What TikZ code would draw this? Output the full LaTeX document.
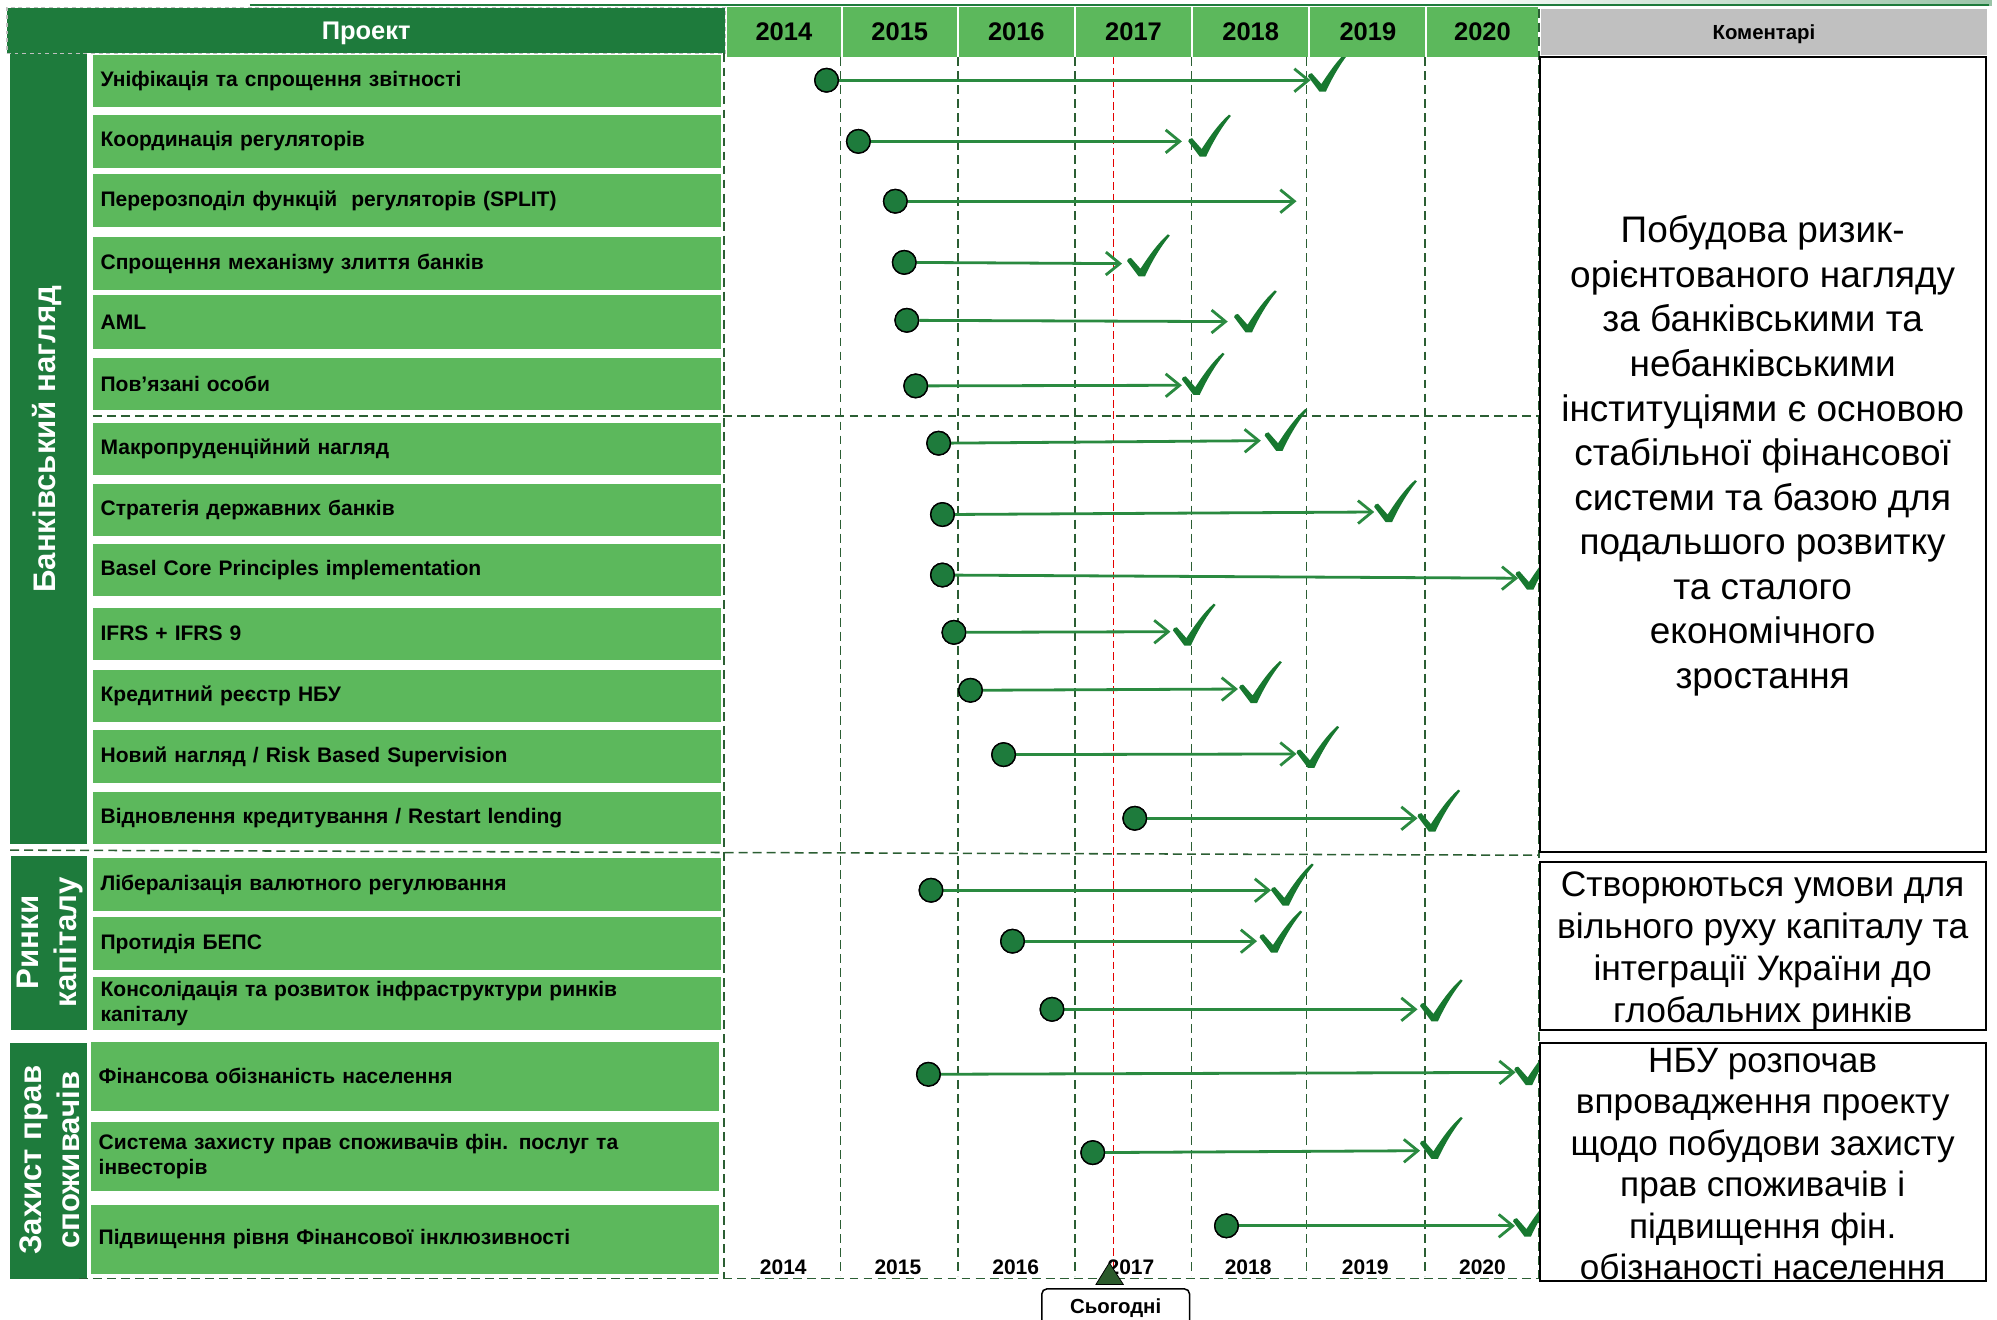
\documentclass[tikz,border=0pt]{standalone}
\usepackage{fontspec}
\setmainfont{Liberation Sans}
\usetikzlibrary{arrows.meta}
\definecolor{dg}{HTML}{1E7B3C}
\definecolor{lg}{HTML}{5CB85C}
\definecolor{gridc}{HTML}{2B5E33}
\definecolor{arrc}{HTML}{2A8A40}
\definecolor{tickc}{HTML}{17782F}
\definecolor{greyh}{HTML}{C0C0C0}
\definecolor{trig}{HTML}{2B5A2B}
\tikzset{
  item/.style={fill=lg, inner xsep=6pt, inner ysep=0pt, text width=481pt, align=left,
    font=\fontsize{16.5}{20}\selectfont\bfseries},
  bandbox/.style={fill=dg, inner sep=0pt},
  bandtxt/.style={text=white, rotate=90, align=center, inner sep=0pt,
    font=\fontsize{24.5}{30}\selectfont\bfseries},
  dot/.style={circle, fill=dg, draw=black, line width=1.1pt, minimum size=18.5pt, inner sep=0pt},
  arr/.style={draw=arrc, line width=2.2pt, -{Straight Barb[length=11pt,width=18pt]}},
  gridl/.style={draw=gridc, line width=1.2pt, dash pattern=on 7pt off 4pt},
  redl/.style={draw=red!90!black, line width=1pt, dash pattern=on 6pt off 3pt},
  yh/.style={fill=lg, inner sep=0pt, minimum height=39pt, font=\fontsize{20}{24}\selectfont\bfseries},
  ybot/.style={inner sep=0pt, font=\fontsize{16.5}{20}\selectfont\bfseries},
  cbox/.style={draw=black, line width=1.5pt, fill=white, inner sep=0pt},
  chk/.pic={\fill[tickc] (-1,1) -- (-10,-11) .. controls (-9.5,-13) .. (-7,-13.5) -- (0.5,-5)
     .. controls (7,-15) and (14,-25) .. (22,-32) -- (23.5,-31)
     .. controls (16,-22) and (9,-10) .. (4,1) -- cycle;}
}
\begin{document}
\begin{tikzpicture}[x=1pt,y=-1pt]
\useasboundingbox (0,0) rectangle (1568,1036);

% top decoration
\shade[left color=white, right color=dg!45] (1120,0) rectangle (1564,4);
\draw[dg, line width=1.6pt] (196,4.2) -- (1562,4.2);

% side bands
\node[bandbox, minimum width=60pt, minimum height=621pt] (bnk) at (38,352.5) {};
\node[bandtxt] (bnkt) at (37,345) {Банківський нагляд};
\node[bandbox, minimum width=59pt, minimum height=137pt] (cap) at (38.5,740.5) {};
\node[bandtxt] (capt) at (39,740) {Ринки\\капіталу};
\node[bandbox, minimum width=60pt, minimum height=185pt] (zp) at (38,911.5) {};
\node[bandtxt] (zpt) at (39,911) {Захист прав\\споживачів};

% project rows
\node[item, minimum height=41pt] (r1) at (319.5,63.5) {Уніфікація та спрощення звітності};
\node[item, minimum height=42pt] (r2) at (319.5,111) {Координація регуляторів};
\node[item, minimum height=41pt] (r3) at (319.5,157.5) {Перерозподіл функцій~ регуляторів (SPLIT)};
\node[item, minimum height=42pt] (r4) at (319.5,207) {Спрощення механізму злиття банків};
\node[item, minimum height=42pt] (r5) at (319.5,253) {AML};
\node[item, minimum height=41pt] (r6) at (319.5,301.5) {Пов’язані особи};
\node[item, minimum height=41pt] (r7) at (319.5,352.5) {Макропруденційний нагляд};
\node[item, minimum height=41pt] (r8) at (319.5,400.5) {Стратегія державних банків};
\node[item, minimum height=41pt] (r9) at (319.5,447.5) {Basel Core Principles implementation};
\node[item, minimum height=41pt] (r10) at (319.5,497.5) {IFRS + IFRS 9};
\node[item, minimum height=41pt] (r11) at (319.5,546.5) {Кредитний реєстр НБУ};
\node[item, minimum height=42pt] (r12) at (319.5,594) {Новий нагляд / Risk Based Supervision};
\node[item, minimum height=41pt] (r13) at (319.5,642.5) {Відновлення кредитування / Restart lending};
\node[item, minimum height=41pt] (r14) at (319.5,694.5) {Лібералізація валютного регулювання};
\node[item, minimum height=41.5pt] (r15) at (319.5,741) {Протидія БЕПС};
\node[item, minimum height=42pt] (r16) at (319.5,788) {Консолідація та розвиток інфраструктури ринків\\капіталу};
\node[item, minimum height=54pt] (r17) at (318,845) {Фінансова обізнаність населення};
\node[item, minimum height=53.5pt] (r18) at (318,908) {Система захисту прав споживачів фін. послуг та\\інвесторів};
\node[item, minimum height=54pt] (r19) at (318,973) {Підвищення рівня Фінансової інклюзивності};

% grid lines
\draw[gridl] (568.5,42) -- (568.5,1004);
\foreach \gx in {660,752,844,935.5,1026,1119}{
  \draw[gridl] (\gx,45) -- (\gx,1002);
}
\draw[gridl] (1208.5,7) -- (1208.5,1004);
\draw[redl] (874.5,44) -- (874.5,1000);
\draw[gridl] (73,326.5) -- (1208,326.5);
\draw[gridl] (8,667.5) -- (1208,671.5);
\draw[gridl] (62,1004) -- (1208,1004);

% arrows
\foreach \n/\dx/\dy/\tx/\ty in {
  1/649/63/1029/63, 2/674/111/928/111, 3/703/158/1018/158, 4/710/206/881/207,
  5/712/251.5/964/252.5, 6/719/303/928/302.5, 7/737/348/990/346, 8/740/404/1079/402,
  9/740/451.5/1192/454, 10/749/496.5/919/496, 11/762/542/972/541, 12/788/592.5/1018/592,
  13/891/642.5/1113/642.5, 14/731/699/998/699, 15/795/739/987/739, 16/826/792.5/1113/792.5,
  17/729/843.5/1190/842, 18/858/905/1115/903.5, 19/963/962.5/1189.5/962.5}{
  \node[dot] (d\n) at (\dx,\dy) {};
  \coordinate (t\n) at (\tx,\ty);
  \draw[arr] (d\n) -- (t\n);
  \node[dot] at (d\n) {};
}

% ticks
\foreach \kx/\ky in {1037/71, 943/122, 895/216, 979/260, 938/309, 1003/353, 1089/409,
  1200/462, 931/506, 983/551, 1028/602, 1123/652, 1008/710, 999/747, 1125/801,
  1199/851, 1125/909, 1198/970}{
  \pic at (\kx,\ky) {chk};
}

% headers
\node[fill=dg, draw=white!75!black, dashed, line width=1pt, minimum width=564pt, minimum height=36pt,
  inner sep=0pt] (proj) at (287.5,24) {};
\node[text=white, inner sep=0pt, font=\fontsize{20}{24}\selectfont\bfseries] (projt) at (287.5,26.5) {Проект};
\node[yh, minimum width=89.5pt] (h14) at (615.5,25) {2014};
\node[yh, minimum width=89.5pt] (h15) at (706.5,25) {2015};
\node[yh, minimum width=90.5pt] (h16) at (798,25) {2016};
\node[yh, minimum width=90.5pt] (h17) at (890,25) {2017};
\node[yh, minimum width=90.5pt] (h18) at (982,25) {2018};
\node[yh, minimum width=90.5pt] (h19) at (1074,25) {2019};
\node[yh, minimum width=86.5pt] (h20) at (1164,25) {2020};
\draw[gridl] (1208.5,7) -- (1208.5,45);
\node[fill=greyh, minimum width=350pt, minimum height=36pt, inner sep=0pt] (kom) at (1385,25) {};
\node[inner sep=0pt, font=\fontsize{16}{19}\selectfont\bfseries] (komt) at (1385,27) {Коментарі};

% comment boxes
\node[cbox, minimum width=350.5pt, minimum height=624pt] (c1) at (1384.25,357) {};
\node[align=center, inner sep=0pt, font=\fontsize{29}{35}\selectfont] (c1t) at (1384,358)
  {Побудова ризик-\\орієнтованого нагляду\\за банківськими та\\небанківськими\\інституціями є основою\\стабільної фінансової\\системи та базою для\\подальшого розвитку\\та сталого\\економічного\\зростання};
\node[cbox, minimum width=350pt, minimum height=132pt] (c2) at (1384,743) {};
\node[align=center, inner sep=0pt, font=\fontsize{27.8}{32.8}\selectfont] (c2t) at (1384,746.5)
  {Створюються умови для\\вільного руху капіталу та\\інтеграції України до\\глобальних ринків};
\node[cbox, minimum width=350pt, minimum height=187pt] (c3) at (1384,912.5) {};
\node[align=center, inner sep=0pt, font=\fontsize{27.6}{32.6}\selectfont] (c3t) at (1384,914)
  {НБУ розпочав\\впровадження проекту\\щодо побудови захисту\\прав споживачів і\\підвищення фін.\\обізнаності населення};

% bottom year labels
\node[ybot] (b14) at (615,995) {2014};
\node[ybot] (b15) at (705,995) {2015};
\node[ybot] (b16) at (797.5,995) {2016};
\node[ybot] (b17) at (888,995) {2017};
\node[ybot] (b18) at (980,995) {2018};
\node[ybot] (b19) at (1072,995) {2019};
\node[ybot] (b20) at (1164,995) {2020};

% today marker
\filldraw[fill=trig, draw=black, line width=0.6pt] (871,991.5) -- (882,1008.5) -- (860.5,1008.5) -- cycle;
\node[draw=black, line width=1.2pt, rounded corners=4pt, fill=white, minimum width=116pt,
  minimum height=30pt, inner sep=0pt, font=\fontsize{16}{19}\selectfont\bfseries] (today) at (876,1027) {Сьогодні};
\end{tikzpicture}
\end{document}
